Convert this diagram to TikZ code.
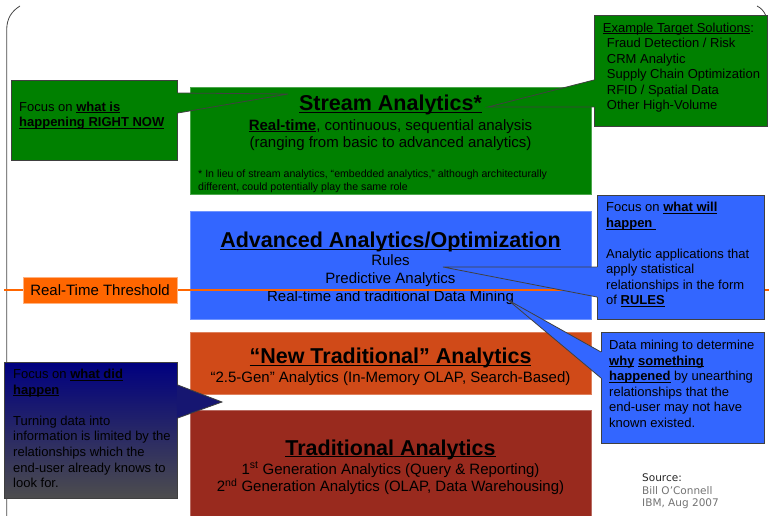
\documentclass[tikz,border=0pt]{standalone}
\usepackage{fontspec}
\setmainfont{Liberation Sans}
\newfontfamily\srcfont{DejaVu Sans}
\usetikzlibrary{calc}
\definecolor{streamgreen}{RGB}{0,128,0}
\definecolor{advblue}{RGB}{51,102,255}
\definecolor{newred}{RGB}{208,74,24}
\definecolor{tradred}{RGB}{153,42,30}
\definecolor{threshorange}{RGB}{255,102,0}
\definecolor{didtop}{RGB}{0,0,128}
\definecolor{didbot}{RGB}{77,77,77}
\definecolor{framegray}{RGB}{70,70,70}
\newcommand{\uln}[1]{\underline{\raisebox{0pt}[\height][0pt]{#1}}}
\tikzset{
  tier/.style={anchor=north west, inner sep=0pt, minimum width=401pt, fill=#1, draw=#1!70!white, line width=0.6pt},
  note/.style={anchor=north west, inner sep=0pt, draw=black!75, line width=0.8pt},
  calledge/.style={draw=black!75, line width=0.8pt},
  title/.style={anchor=base, inner sep=0pt, font=\fontsize{21.5}{25}\selectfont\bfseries},
  body/.style={anchor=base, inner sep=0pt, font=\fontsize{15}{18}\selectfont},
  lines/.style={anchor=north west, inner sep=0pt, align=left, font=\fontsize{13}{15.5}\selectfont},
}
\begin{document}
\begin{tikzpicture}[x=1pt, y=-1pt]
  \useasboundingbox (0,0) rectangle (769,516);
  \draw[framegray, line width=0.8pt] (6.7,516) -- (6.7,30) .. controls (6.7,18) and (12,11) .. (20,6);
  \draw[framegray, line width=0.8pt] (757,6) .. controls (761,8) and (764,11) .. (766,16);

  \node[tier=streamgreen, minimum height=107pt] (stream) at (190,87) {};
  \node[tier=advblue, minimum height=108pt] (adv) at (190,211) {};
  \node[tier=newred, minimum height=62pt] (newtrad) at (190,332) {};
  \node[tier=tradred, minimum height=110pt] (trad) at (190,410) {};

  \node[title] (streamt) at (390.5,111) {\uln{Stream Analytics*}};
  \node[body, anchor=north, align=center, font=\fontsize{15}{17.5}\selectfont] (streamb) at (390.5,119.1)
    {\uln{\textbf{Real-time}}, continuous, sequential analysis\\(ranging from basic to advanced analytics)};
  \node[lines, font=\fontsize{10.6}{13}\selectfont] (streamnote) at (198,169.3)
    {* In lieu of stream analytics, “embedded analytics,” although architecturally\\different, could potentially play the same role};

  \node[title] (advt) at (390.5,247.3) {\uln{Advanced Analytics/Optimization}};
  \node[body, anchor=north, align=center, font=\fontsize{15}{18.3}\selectfont] (advb) at (390.5,254.1)
    {Rules\\Predictive Analytics\\Real-time and traditional Data Mining};

  \node[title] (newt) at (390.5,363.3) {\uln{“New Traditional” Analytics}};
  \node[body] (newb) at (390.5,382.3) {“2.5-Gen” Analytics (In-Memory OLAP, Search-Based)};

  \node[title] (tradt) at (390.5,455) {\uln{Traditional Analytics}};
  \node[body] (trad1) at (390.5,474) {1\textsuperscript{st} Generation Analytics (Query \& Reporting)};
  \node[body] (trad2) at (390.5,491.7) {2\textsuperscript{nd} Generation Analytics (OLAP, Data Warehousing)};

  \coordinate (thL) at (4,289.5);
  \coordinate (thR) at (769,289.5);
  \draw[draw=threshorange, line width=2pt] (thL) -- (thR);
  \node[fill=threshorange, draw=threshorange!50!white, minimum width=154pt, minimum height=26pt, inner sep=0pt,
    font=\fontsize{15}{18}\selectfont] (thlabel) at (100,290) {Real-Time Threshold};

  \node[note, fill=streamgreen, minimum width=166pt, minimum height=80pt] (now) at (11,80) {};
  \coordinate (nowtip) at (288,94);
  \fill[streamgreen] ($(now.north east)+(-1,13)$) -- ($(now.north east)+(0,13)$) -- (nowtip)
    -- ($(now.north east)+(0,33)$) -- ($(now.north east)+(-1,33)$) -- cycle;
  \draw[calledge] ($(now.north east)+(0,13)$) -- (nowtip) -- ($(now.north east)+(0,33)$);
  \node[lines] (nowtext) at (19,101.5) {Focus on \uln{\textbf{what is}}\\\uln{\textbf{happening RIGHT NOW}}};

  \node[note, fill=streamgreen, minimum width=173pt, minimum height=111pt] (target) at (594,15) {};
  \coordinate (targettip) at (488,107);
  \fill[streamgreen] ($(target.north west)+(1,65)$) -- ($(target.north west)+(0,65)$) -- (targettip)
    -- ($(target.north west)+(0,92)$) -- ($(target.north west)+(1,92)$) -- cycle;
  \draw[calledge] ($(target.north west)+(0,65)$) -- (targettip) -- ($(target.north west)+(0,92)$);
  \node[lines] (targettext) at (602.7,22.5) {\uln{Example Target Solutions}:\\
    \hspace*{4pt}Fraud Detection / Risk\\\hspace*{4pt}CRM Analytic\\\hspace*{4pt}Supply Chain Optimization\\
    \hspace*{4pt}RFID / Spatial Data\\\hspace*{4pt}Other High-Volume};

  \node[note, fill=advblue, minimum width=167pt, minimum height=124pt] (will) at (597,195) {};
  \coordinate (willtip) at (443,267);
  \fill[advblue] ($(will.north west)+(1,72)$) -- ($(will.north west)+(0,72)$) -- (willtip)
    -- ($(will.north west)+(0,102)$) -- ($(will.north west)+(1,102)$) -- cycle;
  \draw[calledge] ($(will.north west)+(0,72)$) -- (willtip) -- ($(will.north west)+(0,102)$);
  \node[lines] (willtext) at (606,202.2) {Focus on \uln{\textbf{what will}}\\\uln{\textbf{happen }}\\[15.5pt]
    Analytic applications that\\apply statistical\\relationships in the form\\of \uln{\textbf{RULES}}};

  \node[note, fill=advblue, minimum width=163pt, minimum height=111pt] (mining) at (601,332) {};
  \coordinate (miningtip) at (508,300);
  \fill[advblue] ($(mining.north west)+(1,20)$) -- ($(mining.north west)+(0,20)$) -- (miningtip)
    -- ($(mining.north west)+(0,46)$) -- ($(mining.north west)+(1,46)$) -- cycle;
  \draw[calledge] ($(mining.north west)+(0,20)$) -- (miningtip) -- ($(mining.north west)+(0,46)$);
  \node[lines, font=\fontsize{13}{15.6}\selectfont] (miningtext) at (609,339.8) {Data mining to determine\\
    \uln{\textbf{why}} \uln{\textbf{something}}\\\uln{\textbf{happened}} by unearthing\\
    relationships that the\\end-user may not have\\known existed.};

  \node[note, top color=didtop, bottom color=didbot, minimum width=173pt, minimum height=136pt] (did) at (4,362) {};
  \coordinate (didtip) at (222,402);
  \fill[didbot!29!didtop] ($(did.north east)+(-1,23)$) -- ($(did.north east)+(0,23)$) -- (didtip)
    -- ($(did.north east)+(0,56)$) -- ($(did.north east)+(-1,56)$) -- cycle;
  \draw[calledge] ($(did.north east)+(0,23)$) -- (didtip) -- ($(did.north east)+(0,56)$);
  \node[lines, font=\fontsize{13}{15.6}\selectfont] (didtext) at (13,368.8) {Focus on \uln{\textbf{what did}}\\
    \uln{\textbf{happen}}\\[15.6pt]Turning data into\\information is limited by the\\
    relationships which the\\end-user already knows to\\look for.};

  \node[lines, font=\srcfont\fontsize{10.5}{12.5}\selectfont, text=black!55] (src) at (642,473.7)
    {\textcolor{black!85}{Source:}\\Bill O’Connell\\IBM, Aug 2007};
\end{tikzpicture}
\end{document}
